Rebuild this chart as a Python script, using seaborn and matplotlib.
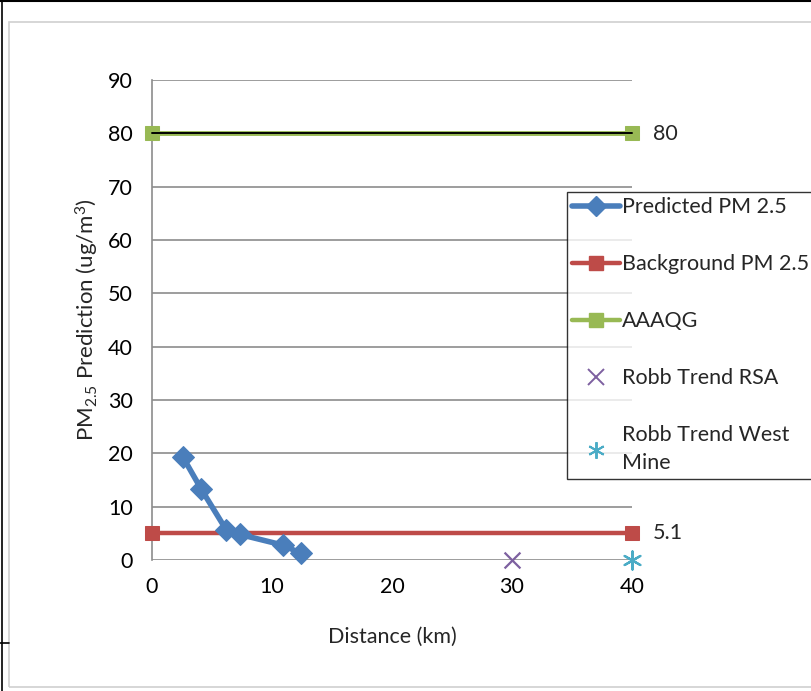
import matplotlib
matplotlib.use("Agg")
import matplotlib.pyplot as plt
import seaborn as sns
import pandas as pd
from matplotlib.patches import Rectangle
from matplotlib.lines import Line2D

# ---- data ----
pred_x = [2.55, 4.1, 6.2, 7.3, 10.9, 12.4]
pred_y = [19.4, 13.3, 5.6, 4.8, 2.8, 1.25]
bg_x = [0, 40]
bg_y = [5.1, 5.1]
aaaqg_x = [0, 40]
aaaqg_y = [80, 80]
rsa_x = [30]
rsa_y = [0]
west_x = [40]
west_y = [0]
x_ticks = [0, 10, 20, 30, 40]
y_ticks = [0, 10, 20, 30, 40, 50, 60, 70, 80, 90]

sns.set_theme(style="white")
plt.rcParams['font.family'] = ['Lato', 'DejaVu Sans']
plt.rcParams['mathtext.default'] = 'regular'

FS = 15.5
C_BLUE = "#4a7ebb"
C_RED = "#be4b48"
C_GREEN = "#98b954"
C_PURPLE = "#7d60a0"
C_CYAN = "#4bacc6"

fig = plt.figure(figsize=(8.11, 6.91), dpi=100)
ax = fig.add_axes([152/811, 1-560/691, 480/811, 480/691])

df_pred = pd.DataFrame({"x": pred_x, "y": pred_y})
df_bg = pd.DataFrame({"x": bg_x, "y": bg_y})
df_aq = pd.DataFrame({"x": aaaqg_x, "y": aaaqg_y})
df_rsa = pd.DataFrame({"x": rsa_x, "y": rsa_y})
df_west = pd.DataFrame({"x": west_x, "y": west_y})

# gridlines
for yv in y_ticks:
    ax.axhline(yv, color="#8c8c8c", lw=1.2, zorder=0)

sns.lineplot(data=df_bg, x="x", y="y", ax=ax, color=C_RED, lw=3.2, marker="s",
             markersize=10, markeredgecolor=C_RED, zorder=3, clip_on=False)
sns.lineplot(data=df_aq, x="x", y="y", ax=ax, color=C_GREEN, lw=3.5, marker="s",
             markersize=10, markeredgecolor=C_GREEN, zorder=3, clip_on=False)
sns.lineplot(data=df_aq, x="x", y="y", ax=ax, color="black", lw=1.4, zorder=3.5, clip_on=False)
sns.lineplot(data=df_pred, x="x", y="y", ax=ax, color=C_BLUE, lw=4, marker="D",
             markersize=11, markeredgecolor=C_BLUE, zorder=4, clip_on=False)
sns.scatterplot(data=df_rsa, x="x", y="y", ax=ax, color=C_PURPLE, marker="x", s=130,
                linewidth=1.6, zorder=5, clip_on=False)
sns.scatterplot(data=df_west, x="x", y="y", ax=ax, color=C_CYAN, marker=(6, 2, 0), s=170,
                linewidth=1.6, zorder=5, clip_on=False)

ax.annotate("80", xy=(aaaqg_x[-1], aaaqg_y[-1]), xytext=(21, -1), textcoords="offset pixels",
            va="center", ha="left", fontsize=FS)
ax.annotate("5.1", xy=(bg_x[-1], bg_y[-1]), xytext=(21, 0), textcoords="offset pixels",
            va="center", ha="left", fontsize=FS)

ax.set_xlim(0, 40)
ax.set_ylim(0, 90)
ax.set_xticks(x_ticks)
ax.set_yticks(y_ticks)
ax.tick_params(axis="both", labelsize=FS, length=0, colors="black")
ax.tick_params(axis="x", pad=12)
ax.tick_params(axis="y", pad=14)
for s in ["top", "right", "bottom"]:
    ax.spines[s].set_visible(False)
ax.spines["left"].set_color("#8c8c8c")
ax.spines["left"].set_linewidth(1.2)
ax.set_xlabel("Distance (km)", fontsize=FS)
ax.set_ylabel("PM$_{2.5}$ Prediction (ug/m$^{3}$)", fontsize=FS + 0.5)
ax.xaxis.set_label_coords(0.5, -0.16)
ax.yaxis.set_label_coords(-0.135, 0.5)
ax.xaxis.label.set_va("center")
ax.yaxis.label.set_va("center")

handles = [
    Line2D([], [], color=C_BLUE, lw=4, marker="D", markersize=10),
    Line2D([], [], color=C_RED, lw=3.2, marker="s", markersize=10),
    Line2D([], [], color=C_GREEN, lw=3.2, marker="s", markersize=10),
    Line2D([], [], color=C_PURPLE, lw=0, marker="x", markersize=11, markeredgewidth=1.4),
    Line2D([], [], color=C_CYAN, lw=0, marker=(6, 2, 0), markersize=12, markeredgewidth=1.4),
]
labels = ["Predicted PM 2.5", "Background PM 2.5", "AAAQG", "Robb Trend RSA",
          "Robb Trend West\nMine"]
leg = fig.legend(handles, labels, loc="upper left", bbox_to_anchor=(567/811, 1-192/691),
                 frameon=True, fancybox=False, fontsize=FS, handlelength=2.2,
                 handletextpad=0.1, labelspacing=1.72, borderpad=0.25, borderaxespad=0)
leg.get_frame().set_edgecolor("black")
leg.get_frame().set_linewidth(1.0)
for t in leg.get_texts():
    t.set_linespacing(1.5)

# outer frames
fig.patches.append(Rectangle((9/811, 1-687/691), 1.1, (687-22)/691, transform=fig.transFigure,
                             fill=False, edgecolor="#d0d0d0", lw=1.2))
fig.lines.append(Line2D([2/811, 2/811], [0, 1], transform=fig.transFigure, color="black", lw=1.2))
fig.lines.append(Line2D([0, 1], [1-0.5/691, 1-0.5/691], transform=fig.transFigure, color="black", lw=1.5))
fig.lines.append(Line2D([0, 9/811], [1-643/691, 1-643/691], transform=fig.transFigure, color="black", lw=1.2))

fig.savefig("out.png", dpi=100)
